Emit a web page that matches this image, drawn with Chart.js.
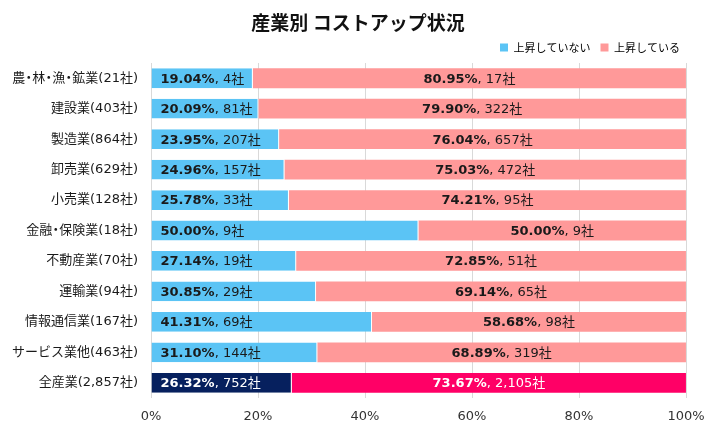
<!DOCTYPE html>
<html>
<head>
<meta charset="utf-8">
<script src="https://cdn.jsdelivr.net/npm/chart.js@4.4.1/dist/chart.umd.min.js"></script>
<style>
html,body{margin:0;padding:0;background:#fff;}
#wrap{width:720px;height:426px;position:relative;}
</style>
</head>
<body>
<div id="wrap"><canvas id="c" width="720" height="426"></canvas></div>
<script>
const categories = ["農・林・漁・鉱業(21社)","建設業(403社)","製造業(864社)","卸売業(629社)","小売業(128社)","金融・保険業(18社)","不動産業(70社)","運輸業(94社)","情報通信業(167社)","サービス業他(463社)","全産業(2,857社)"];
const notRisePct = [19.04,20.09,23.95,24.96,25.78,50.00,27.14,30.85,41.31,31.10,26.32];
const risePct = [80.95,79.90,76.04,75.03,74.21,50.00,72.85,69.14,58.68,68.89,73.67];
const notRiseCount = ["4","81","207","157","33","9","19","29","69","144","752"];
const riseCount = ["17","322","657","472","95","9","51","65","98","319","2,105"];
const seriesNames = ["上昇していない","上昇している"];
const xTicks = [0,20,40,60,80,100];

const FONT = "'DejaVu Sans', 'Noto Sans CJK JP', sans-serif";
const CJK = "'Noto Sans CJK JP', 'DejaVu Sans', sans-serif";
const blue = "#5BC4F5", pink = "#FF9999", navy = "#06205E", magenta = "#FF0066";
const n = categories.length;
const blueColors = categories.map((c,i)=> i===n-1 ? navy : blue);
const pinkColors = categories.map((c,i)=> i===n-1 ? magenta : pink);
const Y_PAD = 13;

// labels containing full-width dots are drawn with narrow dots (as in the original)
function hasDot(s){ return s.indexOf('・') >= 0; }

const labelPlugin = {
  id: 'barLabels',
  afterLayout(chart) {
    chart.titleBlock.right = 716;
    chart.titleBlock.left = 0;
    chart.legend.right += 4;
    chart.legend.left += 4;
  },
  afterDatasetsDraw(chart) {
    const ctx = chart.ctx;
    const pcts = [notRisePct, risePct];
    const cnts = [notRiseCount, riseCount];
    chart.data.datasets.forEach((ds, di) => {
      const meta = chart.getDatasetMeta(di);
      meta.data.forEach((el, i) => {
        const p = pcts[di][i].toFixed(2) + '%';
        const c = ', ' + cnts[di][i] + '社';
        ctx.save();
        ctx.textBaseline = 'middle';
        ctx.fillStyle = i === n-1 ? '#ffffff' : '#1a1a1a';
        ctx.font = 'bold 13px ' + FONT;
        const w1 = ctx.measureText(p).width;
        ctx.font = '13px ' + FONT;
        const w2 = ctx.measureText(c).width;
        const left = Math.min(el.x, el.base), right = Math.max(el.x, el.base);
        let x0 = di === 0 ? left + 9 : (left + right) / 2 - (w1 + w2) / 2;
        ctx.font = 'bold 13px ' + FONT;
        ctx.textAlign = 'left';
        ctx.fillText(p, x0, el.y + 1);
        ctx.font = '13px ' + FONT;
        ctx.fillText(c, x0 + w1, el.y + 1);
        ctx.restore();
      });
    });
  },
  afterDraw(chart) {
    const ctx = chart.ctx;
    const ys = chart.scales.y;
    categories.forEach((lab, i) => {
      if (!hasDot(lab)) return;
      const y = ys.getPixelForTick(i);
      ctx.save();
      ctx.font = '13px ' + FONT;
      ctx.fillStyle = '#1a1a1a';
      ctx.textBaseline = 'middle';
      const chars = Array.from(lab);
      const adv = chars.map(ch => ch === '・' ? 7 : ctx.measureText(ch).width);
      const total = adv.reduce((a,b)=>a+b,0);
      let x = ys.right - Y_PAD - total;
      chars.forEach((ch, k) => {
        if (ch === '・') { ctx.textAlign = 'center'; ctx.fillText(ch, x + adv[k]/2, y); }
        else { ctx.textAlign = 'left'; ctx.fillText(ch, x, y); }
        x += adv[k];
      });
      ctx.restore();
    });
  }
};

new Chart(document.getElementById('c'), {
  type: 'bar',
  data: {
    labels: categories,
    datasets: [
      { label: seriesNames[0], data: notRisePct, backgroundColor: blueColors, borderColor: 'rgba(255,255,255,0.85)', borderWidth: {top:0,bottom:0,left:0,right:1}, borderSkipped: false, categoryPercentage: 0.65, barPercentage: 1 },
      { label: seriesNames[1], data: risePct, backgroundColor: pinkColors, borderWidth: 0, categoryPercentage: 0.65, barPercentage: 1 }
    ]
  },
  options: {
    indexAxis: 'y',
    responsive: false,
    animation: false,
    devicePixelRatio: 1,
    layout: { padding: { left: 0, right: 34, top: 5, bottom: 0 } },
    scales: {
      x: {
        stacked: true, min: 0, max: 100,
        afterBuildTicks(scale){ scale.ticks = xTicks.map(v=>({value:v})); },
        afterFit(scale){ scale.height = 28; },
        ticks: { callback: v => v + '%', font: { family: FONT, size: 13 }, color: '#333', padding: 11 },
        grid: { color: '#d9d9d9', drawTicks: false },
        border: { display: false }
      },
      y: {
        stacked: true,
        afterFit(scale){ scale.width = 151; },
        ticks: {
          font: { family: FONT, size: 13 },
          color: (c) => hasDot(categories[c.index] || '') ? 'rgba(0,0,0,0)' : '#1a1a1a',
          padding: Y_PAD
        },
        grid: { display: false, drawTicks: false },
        border: { display: false }
      }
    },
    plugins: {
      title: { display: true, text: '産業別 コストアップ状況', font: { family: CJK, size: 19, weight: 'bold', lineHeight: 1 }, color: '#111', padding: { top: 8, bottom: 0 } },
      legend: {
        position: 'top', align: 'end',
        labels: {
          boxWidth: 8, boxHeight: 8, padding: 10,
          font: { family: CJK, size: 11 }, color: '#111',
          generateLabels(chart){
            return seriesNames.map((s,i)=>({ text: s, fillStyle: i===0?blue:pink, strokeStyle: i===0?blue:pink, lineWidth: 0, datasetIndex: i, hidden: false }));
          }
        }
      },
      tooltip: { enabled: false }
    }
  },
  plugins: [labelPlugin]
});
</script>
</body>
</html>
